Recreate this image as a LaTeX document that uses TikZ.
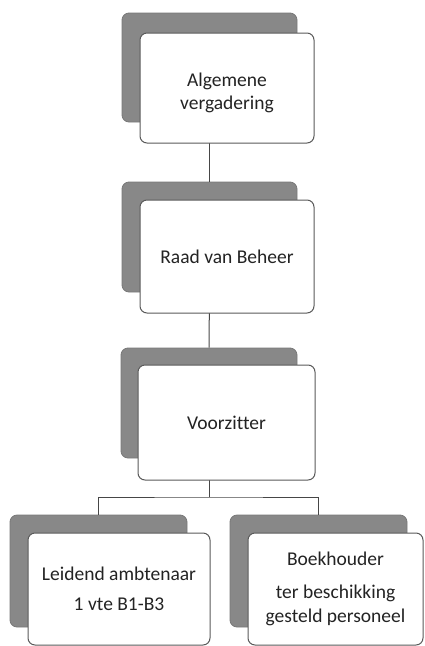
\documentclass[tikz,border=0pt]{standalone}
\usepackage{fontspec}
\setmainfont{Carlito}[Ligatures={NoCommon}]
\definecolor{shadowgray}{RGB}{136,136,136}
\definecolor{shadowedge}{RGB}{120,120,120}
\definecolor{boxedge}{RGB}{90,90,90}
\definecolor{linegray}{RGB}{70,70,70}
\definecolor{txt}{RGB}{35,35,35}
\tikzset{
  shadowbox/.style={draw=shadowedge, fill=shadowgray, line width=0.8pt, rounded corners=7pt, inner sep=0pt},
  whitebox/.style={draw=boxedge, fill=white, line width=1pt, rounded corners=7pt, inner sep=0pt, align=center, text=txt, font=\fontsize{19.5}{23.4}\selectfont},
  conn/.style={draw=linegray, line width=1pt}
}
\begin{document}
\begin{tikzpicture}[x=1pt,y=-1pt]
\useasboundingbox (0,0) rectangle (424,646);
% connector junction
\coordinate (j) at (209,497);
% shadow boxes
\node[shadowbox, minimum width=175pt, minimum height=109pt] (s1) at (209.5,67.5) {};
\node[shadowbox, minimum width=175pt, minimum height=110pt] (s2) at (209.5,237) {};
\node[shadowbox, minimum width=176pt, minimum height=110pt] (s3) at (209,403) {};
\node[shadowbox, minimum width=177pt, minimum height=112pt] (s4) at (98.5,571) {};
\node[shadowbox, minimum width=177pt, minimum height=112pt] (s5) at (318.5,571) {};
% connectors
\draw[conn] (s1.south) -- (s2.north);
\draw[conn] (s2.south) -- (s3.north);
\draw[conn] (s3.south) -- (j);
\draw[conn] (s4.north) |- (j) -| (s5.north);
% white boxes
\node[whitebox, minimum width=174pt, minimum height=110pt] (b1) at (227,88) {\rule{0pt}{23pt}Algemene\\vergadering};
\node[whitebox, minimum width=174pt, minimum height=113pt] (b2) at (227,256.5) {Raad van Beheer};
\node[whitebox, minimum width=177pt, minimum height=115pt] (b3) at (226.5,422.5) {Voorzitter};
\node[whitebox, minimum width=182pt, minimum height=112pt] (b4) at (119,589) {Leidend ambtenaar\\[6.6pt]1 vte B1-B3};
\node[whitebox, minimum width=175pt, minimum height=112pt] (b5) at (335.5,589) {Boekhouder\\[9.6pt]ter beschikking\\gesteld personeel};
\end{tikzpicture}
\end{document}
